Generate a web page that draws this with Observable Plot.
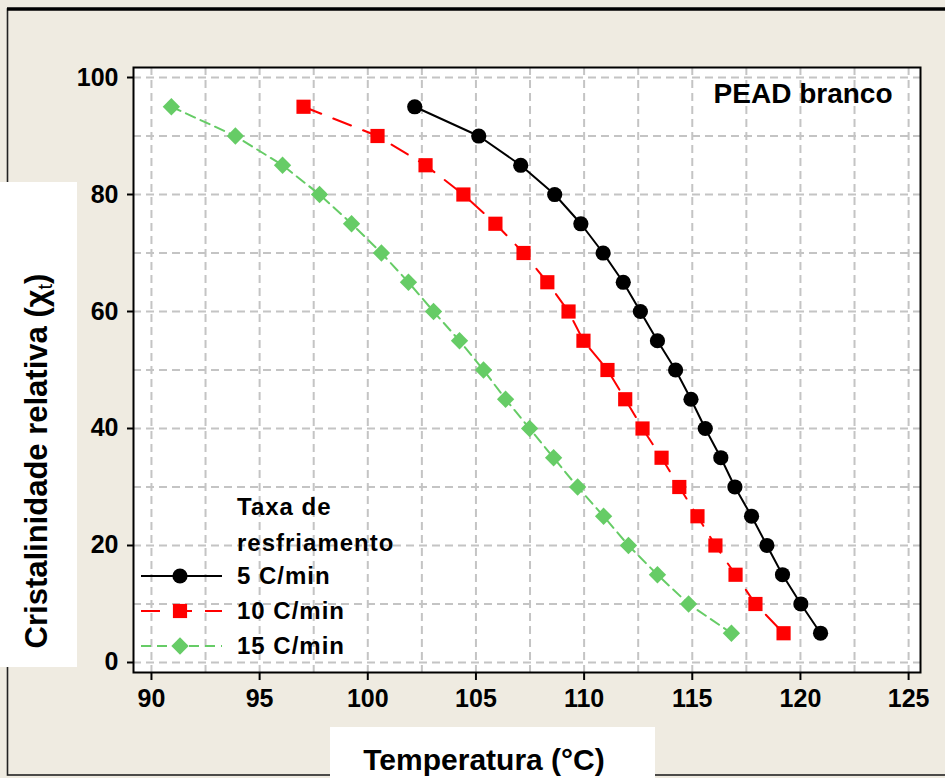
<!DOCTYPE html>
<html>
<head>
<meta charset="utf-8">
<script src="https://cdn.jsdelivr.net/npm/d3@7"></script>
<script src="https://cdn.jsdelivr.net/npm/@observablehq/plot@0.6"></script>
<style>
  html, body { margin: 0; padding: 0; background: #efebe1; }
  #chart { width: 945px; height: 778px; }
  svg { overflow: visible; }
</style>
</head>
<body>
<div id="chart"></div>
<script>
// Relative crystallinity (%) reached at each temperature, per cooling rate
const crystallinity = [95, 90, 85, 80, 75, 70, 65, 60, 55, 50, 45, 40, 35, 30, 25, 20, 15, 10, 5];
const temp5 = [102.17, 105.13, 107.07, 108.64, 109.85, 110.88, 111.81, 112.60, 113.39, 114.23,
               114.94, 115.60, 116.32, 116.97, 117.74, 118.45, 119.17, 120.02, 120.93];
const temp10 = [97.03, 100.45, 102.67, 104.42, 105.90, 107.20, 108.30, 109.28, 109.97, 111.08,
                111.90, 112.70, 113.58, 114.40, 115.24, 116.07, 117.00, 117.92, 119.22];
const temp15 = [90.92, 93.88, 96.06, 97.77, 99.25, 100.63, 101.88, 103.04, 104.24, 105.35,
                106.37, 107.48, 108.59, 109.70, 110.90, 112.05, 113.39, 114.83, 116.81];
const seriesLabels = ["5 C/min", "10 C/min", "15 C/min"];
const xTicks = [90, 95, 100, 105, 110, 115, 120, 125];
const yTicks = [0, 20, 40, 60, 80, 100];
const xGrid = [90, 92.5, 95, 97.5, 100, 102.5, 105, 107.5, 110, 112.5, 115, 117.5, 120, 122.5, 125];
const yGrid = [0, 10, 20, 30, 40, 50, 60, 70, 80, 90, 100];

const FONT = "'Liberation Sans', Arial, Helvetica, sans-serif";

const styles = [
  {color: "#000000", symbol: "circle",   r: 7.6, dash: null},
  {color: "#ff0000", symbol: "square",   r: 8.0, dash: "19,13"},
  {color: "#66cc66", symbol: "diamond2", r: 7.8, dash: "10,6"}
];
const temps = [temp5, temp10, temp15];
const series = temps.map((ts, k) => ts.map((t, i) => ({t, c: crystallinity[i], s: seriesLabels[k]})));

const seriesMarks = series.flatMap((rows, k) => [
  Plot.line(rows, {x: "t", y: "c", stroke: styles[k].color, strokeWidth: 2,
                   strokeDasharray: styles[k].dash ?? undefined}),
  Plot.dot(rows, {x: "t", y: "c", symbol: styles[k].symbol, r: styles[k].r,
                  fill: styles[k].color, stroke: "none"})
]);

const svg = Plot.plot({
  width: 945,
  height: 778,
  marginLeft: 133,
  marginRight: 25,
  marginTop: 67,
  marginBottom: 106,
  style: {background: "transparent", fontFamily: FONT, color: "black", overflow: "visible"},
  x: {domain: [89.17, 125.55]},
  y: {domain: [-1.71, 101.71]},
  marks: [
    Plot.frame({fill: "white", stroke: "none"}),
    Plot.ruleX(xGrid, {stroke: "#c4c4c4", strokeWidth: 2, strokeDasharray: "8,5"}),
    Plot.ruleY(yGrid, {stroke: "#c4c4c4", strokeWidth: 2, strokeDasharray: "8,5"}),
    ...seriesMarks,
    Plot.frame({stroke: "black", strokeWidth: 2}),
    Plot.axisX({ticks: xTicks, tickSize: 8, tickPadding: 9, strokeWidth: 2,
                fontSize: 25, fontWeight: "bold", tickFormat: d => String(d), label: null}),
    Plot.axisY({ticks: yTicks, tickSize: 6, tickPadding: 9, strokeWidth: 2,
                fontSize: 25, fontWeight: "bold", tickFormat: d => String(d), label: null}),
    Plot.text(["PEAD branco"], {frameAnchor: "top-right", dx: -28, dy: 16,
                fontSize: 28, fontWeight: "bold", fill: "black"})
  ]
});
document.getElementById("chart").appendChild(svg);

const root = d3.select(svg);

// Outer panel border, behind everything else
const back = root.insert("g", ":first-child");
back.append("rect").attr("x", 7.5).attr("y", 9).attr("width", 945).attr("height", 766)
  .attr("fill", "#efebe1").attr("stroke", "#222").attr("stroke-width", 1.6);
back.append("line").attr("x1", 7).attr("x2", 945).attr("y1", 9).attr("y2", 9)
  .attr("stroke", "black").attr("stroke-width", 3.5);

// Axis titles on white panels
const deco = root.append("g").attr("font-family", FONT).attr("font-weight", "bold").attr("fill", "black");
deco.append("rect").attr("x", 0).attr("y", 182).attr("width", 77).attr("height", 485).attr("fill", "white");
deco.append("rect").attr("x", 330).attr("y", 727).attr("width", 325).attr("height", 51).attr("fill", "white");

const yTitle = deco.append("text")
  .attr("transform", "translate(47,461) rotate(-90)")
  .attr("text-anchor", "middle").attr("font-size", 31);
yTitle.append("tspan").text("Cristalinidade relativa (\u03c7");
yTitle.append("tspan").attr("font-size", 20).attr("font-weight", "normal").attr("dy", 5).text("t");
yTitle.append("tspan").attr("dy", -5).text(")");

deco.append("text").attr("x", 484).attr("y", 770).attr("text-anchor", "middle")
  .attr("font-size", 30).text("Temperatura (\u00b0C)");

// Legend
const legend = root.append("g").attr("font-family", FONT).attr("font-weight", "bold")
  .attr("font-size", 24).attr("letter-spacing", 1).attr("fill", "black")
  .attr("text-anchor", "start");
legend.append("text").attr("x", 237).attr("y", 515).text("Taxa de");
legend.append("text").attr("x", 237).attr("y", 551).text("resfriamento");
const symbolTypes = {circle: d3.symbolCircle, square: d3.symbolSquare, diamond2: d3.symbolDiamond2};
const rowY = [576, 611, 646];
seriesLabels.forEach((label, k) => {
  const st = styles[k];
  const g = legend.append("g").attr("transform", `translate(0,${rowY[k]})`);
  g.append("line").attr("x1", 141).attr("x2", 222).attr("y1", 0).attr("y2", 0)
    .attr("stroke", st.color).attr("stroke-width", 2)
    .attr("stroke-dasharray", st.dash);
  g.append("path").attr("transform", "translate(180,0)")
    .attr("d", d3.symbol(symbolTypes[st.symbol], Math.PI * st.r * st.r)())
    .attr("fill", st.color);
  g.append("text").attr("x", 237).attr("y", 8).text(label);
});
</script>
</body>
</html>
